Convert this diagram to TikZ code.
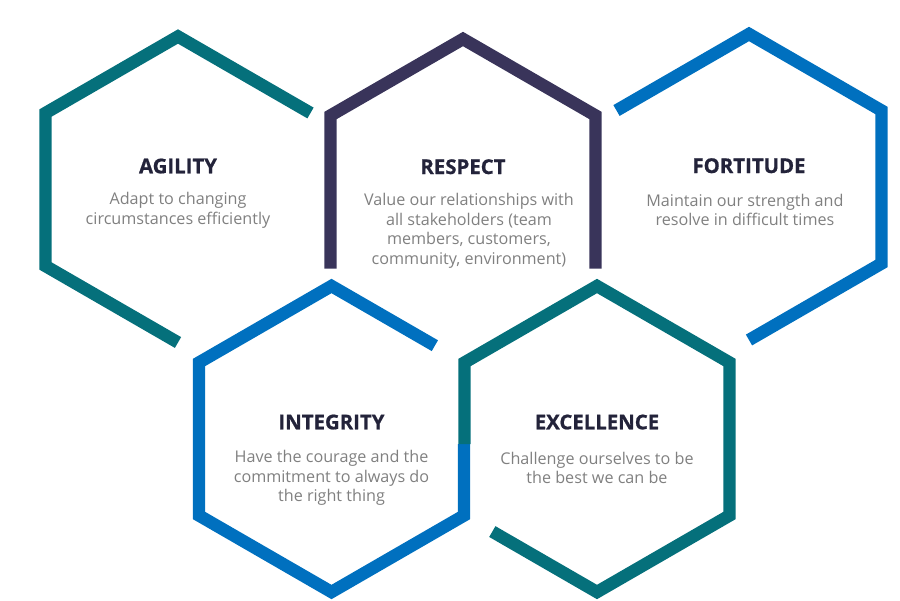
\documentclass[tikz,border=0pt]{standalone}
\usepackage{fontspec}
\setmainfont{Open Sans}
\newfontfamily\headfont[BoldFeatures={FakeBold=0.8}]{Open Sans}
\usetikzlibrary{positioning,calc}

\definecolor{hexteal}{HTML}{05707B}
\definecolor{hexnavy}{HTML}{39345A}
\definecolor{hexblue}{HTML}{0070BF}
\definecolor{headc}{HTML}{23233A}
\definecolor{textc}{HTML}{808080}

\begin{document}
\begin{tikzpicture}[x=0.02cm, y=0.02cm,
  hex/.style = {line width=7.1pt, line join=miter},
  head/.style = {inner sep=0pt, anchor=base, text=headc, font=\headfont\bfseries\fontsize{11.6}{14}\selectfont},
  txt/.style = {inner sep=0pt, align=center, text=textc, font=\fontsize{9.2}{11.1}\selectfont}]
\useasboundingbox (0,0) rectangle (900,600);
\def\R{153}
\def\w{132.5}
% centres of the hexagons
\coordinate (ag) at (178,410.5);
\coordinate (re) at (463,408);
\coordinate (fo) at (749,413);
\coordinate (ig) at (331.5,161);
\coordinate (ex) at (597,161);
\draw[hex, hexteal, shift={(ag)}] (-90:\R) -- (210:\R) -- (150:\R) -- (90:\R) -- (30:\R);
\draw[hex, hexnavy, shift={(re)}] (210:\R) -- (150:\R) -- (90:\R) -- (30:\R) -- (-30:\R);
\draw[hex, hexblue, shift={(fo)}] (150:\R) -- (90:\R) -- (30:\R) -- (-30:\R) -- (-90:\R);
\draw[hex, hexblue, shift={(ig)}] (\w,-5) -- (-30:\R) -- (-90:\R) -- (210:\R) -- (150:\R) -- (90:\R) -- ($(90:\R)!0.78!(30:\R)$);
\draw[hex, hexteal, shift={(ex)}] ($(210:\R)!0.21!(-90:\R)$) -- (-90:\R) -- (-30:\R) -- (30:\R) -- (90:\R) -- (150:\R) -- (-\w,-5);
% titles and texts
\node[head] (agt) at (178,426.7) {AGILITY};
\node[txt, below=10.5pt of agt] (agb) {Adapt to changing\\circumstances efficiently};
\node[head] (ret) at (463,426) {RESPECT};
\node[txt, below=10.5pt of ret, xshift=3.4pt] (reb) {Value our relationships with\\all stakeholders (team\\members, customers,\\community, environment)};
\node[head] (fot) at (749,427) {FORTITUDE};
\node[txt, below=11.5pt of fot, xshift=-2.3pt] (fob) {Maintain our strength and\\resolve in difficult times};
\node[head] (igt) at (331.5,170.7) {INTEGRITY};
\node[txt, below=11.5pt of igt] (igb) {Have the courage and the\\commitment to always do\\the right thing};
\node[head] (ext) at (597,170.7) {EXCELLENCE};
\node[txt, below=12.5pt of ext] (exb) {Challenge ourselves to be\\the best we can be};
\end{tikzpicture}
\end{document}
